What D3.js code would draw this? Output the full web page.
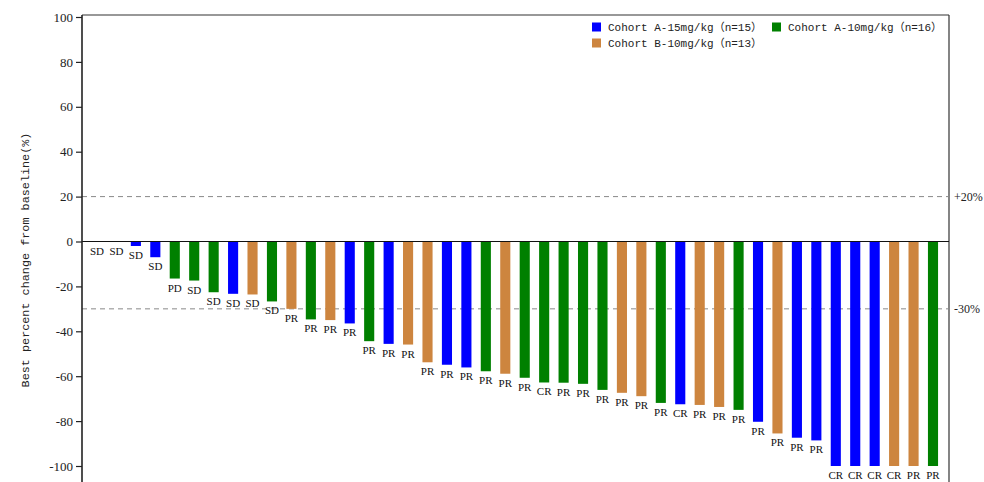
<!DOCTYPE html>
<html><head><meta charset="utf-8">
<script src="https://cdn.jsdelivr.net/npm/d3@7"></script>
<style>body{margin:0;background:#fff;}svg{display:block;}</style>
</head><body>
<svg id="chart" width="984" height="482"></svg>
<script>
const values = [0,0,-2,-7,-16.5,-17.4,-22.6,-23.3,-23.6,-26.7,
  -30,-34.7,-35,-36.5,-44.4,-45.6,-45.9,-53.8,-54.9,-56.1,
  -57.8,-58.9,-60.7,-62.8,-62.9,-63.4,-66.1,-67.4,-68.9,-71.9,
  -72.5,-72.8,-73.7,-75,-80.3,-85.5,-87.4,-88.6,-100,-100,
  -100,-100,-100,-100];
const cohorts = ["A10","A15","A15","A15","A10","A10","A10","A15","B10","A10",
  "B10","A10","B10","A15","A10","A15","B10","B10","A15","A15",
  "A10","B10","A10","A10","A10","A10","A10","B10","B10","A10",
  "A15","B10","B10","A10","A15","B10","A15","A15","A15","A15",
  "A15","B10","B10","A10"];
const responses = ["SD","SD","SD","SD","PD","SD","SD","SD","SD","SD",
  "PR","PR","PR","PR","PR","PR","PR","PR","PR","PR",
  "PR","PR","PR","CR","PR","PR","PR","PR","PR","PR",
  "CR","PR","PR","PR","PR","PR","PR","PR","CR","CR",
  "CR","CR","PR","PR"];
const seriesKeys = ["A15","A10","B10"];
const seriesNames = ["Cohort A-15mg/kg","Cohort A-10mg/kg","Cohort B-10mg/kg"];
const seriesN = ["n=15","n=16","n=13"];
const seriesColors = ["#0000ff","#008000","#cd853f"];
const yTicks = [100,80,60,40,20,0,-20,-40,-60,-80,-100];
const refLines = [20,-30];
const refLabels = ["+20%","-30%"];

(function(){
const svg = d3.select("#chart");
const pL = 82, pR = 949, pT = 15, pB = 482;
const serif = "'Liberation Serif','Times New Roman',serif";
const mono = "'Liberation Mono','Courier New',monospace";
const cjk = "'Noto Sans CJK SC',sans-serif";
const y = d3.scaleLinear().domain([-100,100]).range([466,17]);
const x = d3.scaleBand().domain(d3.range(values.length)).range([87.28,942.72])
  .paddingInner(0.48).paddingOuter(0.24);
const color = d3.scaleOrdinal().domain(seriesKeys).range(seriesColors);

// frame
svg.append("line").attr("x1",pL).attr("x2",pR).attr("y1",pT).attr("y2",pT)
  .attr("stroke","#333").attr("stroke-width",1.2);
svg.append("line").attr("x1",pR).attr("x2",pR).attr("y1",pT).attr("y2",pB)
  .attr("stroke","#333").attr("stroke-width",1.2);

// ref lines
refLines.forEach((v,i)=>{
  svg.append("line").attr("x1",pL).attr("x2",pR).attr("y1",y(v)).attr("y2",y(v))
    .attr("stroke","#888").attr("stroke-width",1).attr("stroke-dasharray","5,4");
  svg.append("text").attr("x",pR+5).attr("y",y(v)+4).text(refLabels[i])
    .style("font-family",serif).style("font-size","12px").attr("fill","#222");
});

// bars
svg.append("g").selectAll("rect").data(values).join("rect")
  .attr("x",(d,i)=>x(i)).attr("width",x.bandwidth())
  .attr("y",y(0)).attr("height",d=>y(d)-y(0))
  .attr("fill",(d,i)=>color(cohorts[i]));

// labels
svg.append("g").selectAll("text").data(values).join("text")
  .attr("x",(d,i)=>x(i)+x.bandwidth()/2).attr("y",d=>y(d)+13)
  .attr("text-anchor","middle").style("font-family",serif)
  .style("font-size","11px").attr("fill","#111").text((d,i)=>responses[i]);

// zero line
svg.append("line").attr("x1",pL).attr("x2",pR).attr("y1",y(0)).attr("y2",y(0))
  .attr("stroke","#111").attr("stroke-width",1.2);

// y axis
const yAxis = svg.append("g").attr("transform",`translate(${pL},0)`)
  .call(d3.axisLeft(y).tickValues(yTicks).tickSize(6).tickFormat(d=>String(d)));
yAxis.attr("font-family",null).attr("font-size",null);
yAxis.select(".domain").remove();
yAxis.append("line").attr("x1",0).attr("x2",0).attr("y1",pT).attr("y2",pB)
  .attr("stroke","#222").attr("stroke-width",1.6);
yAxis.selectAll(".tick line").attr("stroke","#222").attr("stroke-width",1.2);
yAxis.selectAll(".tick text").style("font-family",serif)
  .style("font-size","13px").attr("fill","#222").attr("x",-9);

// y title
svg.append("text").attr("transform","translate(29,260) rotate(-90)")
  .attr("text-anchor","middle").style("font-family",mono)
  .style("font-size","11.8px").attr("fill","#222").text("Best percent change from baseline(%)");

// legend
const legPos = [[592,27],[772,27],[592,43]];
seriesKeys.forEach((k,i)=>{
  const g = svg.append("g").attr("transform",`translate(${legPos[i][0]},${legPos[i][1]})`);
  g.append("rect").attr("x",0).attr("y",-4.5).attr("width",9).attr("height",9).attr("fill",seriesColors[i]);
  const t = g.append("text").attr("x",16).attr("y",4).style("font-family",mono)
    .style("font-size","11px").attr("fill","#222");
  t.append("tspan").text(seriesNames[i]);
  t.append("tspan").style("font-family",cjk).text("（");
  t.append("tspan").text(seriesN[i]);
  t.append("tspan").style("font-family",cjk).text("）");
});
})();
</script>
</body></html>
